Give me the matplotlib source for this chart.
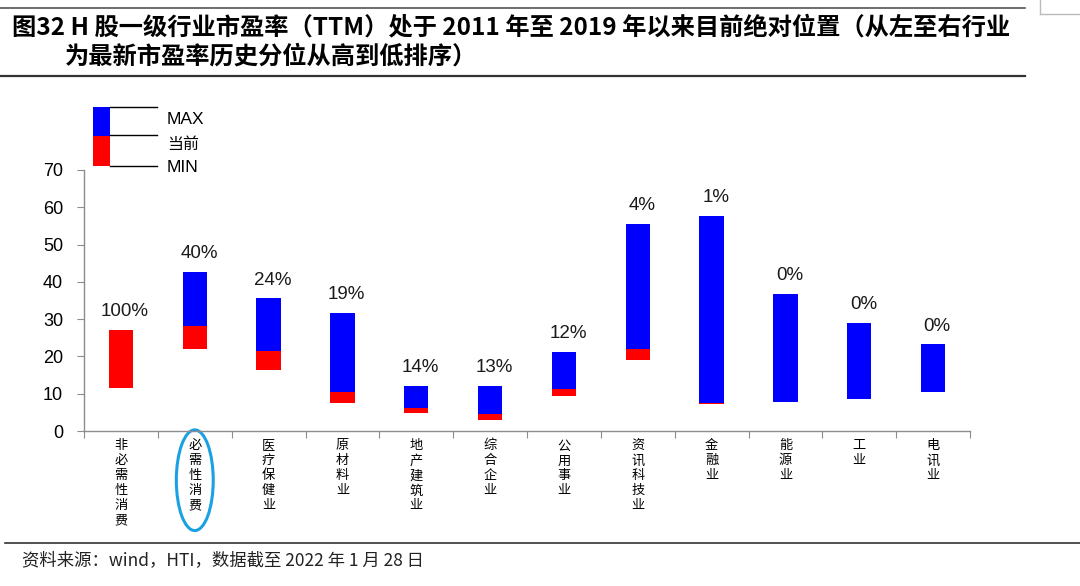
"""
H股一级行业市盈率（TTM）历史区间与当前位置
"""
import matplotlib.pyplot as plt
from matplotlib.patches import Rectangle, Ellipse
from matplotlib.lines import Line2D

plt.rcParams['font.family'] = ['Noto Sans CJK SC', 'DejaVu Sans']

# data
industries = ['非必需性消费', '必需性消费', '医疗保健业', '原材料业', '地产建筑业', '综合企业',
              '公用事业', '资讯科技业', '金融业', '能源业', '工业', '电讯业']
pe_max = [27.1, 42.6, 35.6, 31.6, 12.1, 12.1, 21.3, 55.6, 57.7, 36.7, 29.0, 23.2]
pe_now = [27.1, 28.2, 21.4, 10.4, 6.3, 4.6, 11.3, 21.9, 7.4, 7.8, 8.6, 10.5]
pe_min = [11.6, 22.0, 16.4, 7.5, 4.8, 3.0, 9.4, 19.0, 7.2, 7.8, 8.6, 10.5]
pct_labels = ['100%', '40%', '24%', '19%', '14%', '13%', '12%', '4%', '1%', '0%', '0%', '0%']

BLUE = '#0000FF'
RED = '#FF0000'
AXIS = '#8c8c8c'
latin = ['Liberation Sans', 'DejaVu Sans']

fig = plt.figure(figsize=(10.8, 5.86), dpi=100)
ax = fig.add_axes([0.0778, 0.2645, 0.8204, 0.4454])

x = list(range(len(industries)))
red_h = [n - m for n, m in zip(pe_now, pe_min)]
blue_h = [a - n for a, n in zip(pe_max, pe_now)]
ax.bar(x, red_h, bottom=pe_min, width=0.33, color=RED, linewidth=0)
ax.bar(x, blue_h, bottom=pe_now, width=0.33, color=BLUE, linewidth=0)

for xi, top, lab in zip(x, pe_max, pct_labels):
    ax.annotate(lab, (xi, top), xytext=(3, 7), textcoords='offset points',
                ha='center', va='bottom', fontsize=13.5, family=latin, color='#1a1a1a')

ax.set_xlim(-0.5, len(industries) - 0.5)
ax.set_ylim(0, 70)
ax.set_yticks(range(0, 71, 10))
ax.set_yticklabels([str(v) for v in range(0, 71, 10)], family=latin, fontsize=13)
ax.set_xticks([i + 0.5 for i in range(-1, len(industries))])
ax.set_xticklabels([])
ax.set_xticks(x, minor=True)
ax.set_xticklabels(['\n'.join(s) for s in industries], minor=True, fontsize=9.5,
                   va='top', linespacing=1.2)
ax.tick_params(axis='x', which='minor', length=0, pad=6)
ax.tick_params(axis='x', which='major', length=5, color=AXIS, direction='out')
ax.tick_params(axis='y', length=5, color=AXIS, pad=10)
for side in ['top', 'right']:
    ax.spines[side].set_visible(False)
for side in ['left', 'bottom']:
    ax.spines[side].set_color(AXIS)
    ax.spines[side].set_linewidth(1)

# highlight circle around 必需性消费
ax.add_patch(Ellipse((1, -13.2), 0.5, 27, transform=ax.transData, clip_on=False,
                     fill=False, edgecolor='#1ba1e2', linewidth=2.2))

# schematic legend, figure pixel coords
W, H = 1080, 586
def fx(px):
    return px / W
def fy(py):
    return 1 - py / H
fig.patches.append(Rectangle((fx(93), fy(136)), fx(17), fy(107) - fy(136),
                             transform=fig.transFigure, color=BLUE, lw=0))
fig.patches.append(Rectangle((fx(93), fy(166)), fx(17), fy(136) - fy(166),
                             transform=fig.transFigure, color=RED, lw=0))
for py in [107, 135, 166]:
    fig.add_artist(Line2D([fx(110), fx(157)], [fy(py), fy(py)], color='black', lw=1))
fig.text(fx(167), fy(120), 'MAX', family=latin, fontsize=12.5, va='center')
fig.text(fx(167), fy(144), '当前', fontsize=11.5, va='center')
fig.text(fx(167), fy(168), 'MIN', family=latin, fontsize=12.5, va='center')

# title and frame lines
fig.add_artist(Line2D([0, fx(1025)], [fy(8), fy(8)], color='#555555', lw=1.2))
fig.add_artist(Line2D([fx(1040), fx(1040)], [fy(0), fy(14)], color='#bbbbbb', lw=1))
fig.add_artist(Line2D([fx(1040), 1], [fy(14), fy(14)], color='#bbbbbb', lw=1))
fig.text(fx(12), fy(27), '图32 H 股一级行业市盈率（TTM）处于 2011 年至 2019 年以来目前绝对位置（从左至右行业',
         fontsize=17.5, fontweight='bold', va='center')
fig.text(fx(65), fy(57), '为最新市盈率历史分位从高到低排序）',
         fontsize=17.5, fontweight='bold', va='center')
fig.add_artist(Line2D([0, fx(1025)], [fy(76), fy(76)], color='#333333', lw=1.6))
fig.add_artist(Line2D([fx(5), 1], [fy(543), fy(543)], color='#333333', lw=1.2))
fig.text(fx(22), fy(560), '资料来源：wind，HTI，数据截至 2022 年 1 月 28 日',
         fontsize=12.5, va='center', color='#222222')

fig.savefig('out.png', dpi=100)
